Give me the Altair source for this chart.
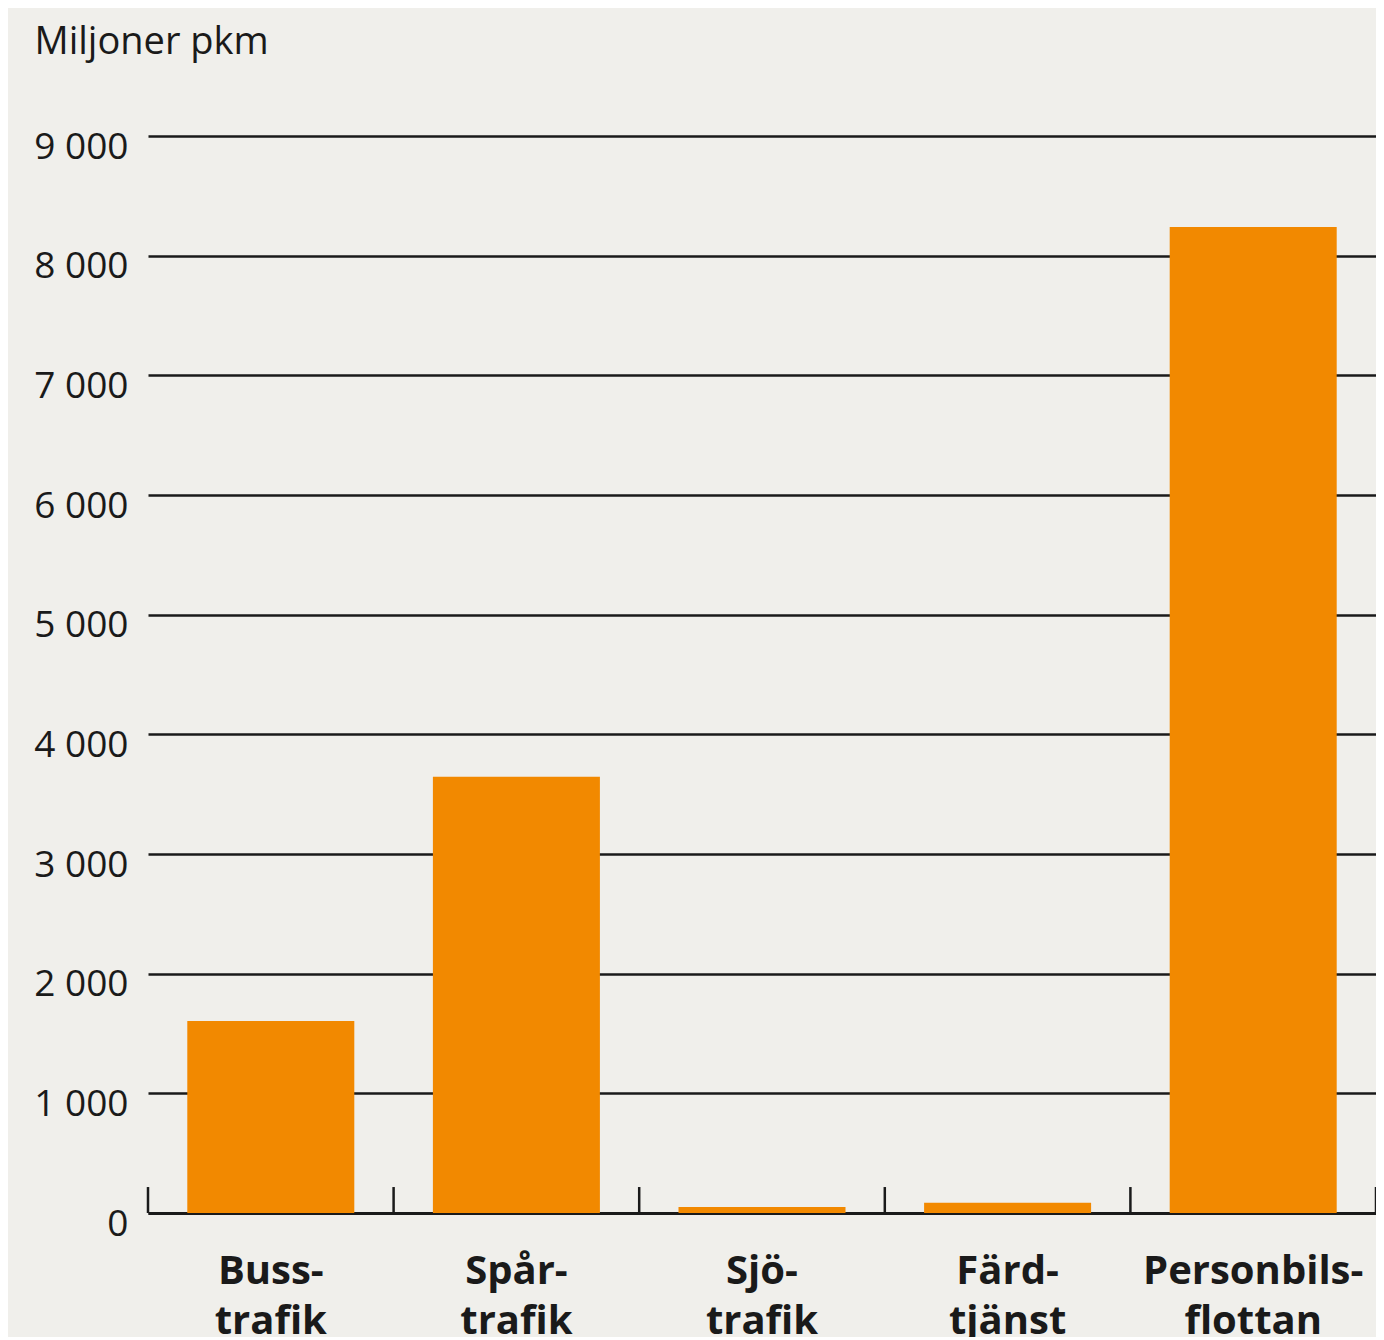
import altair as alt
import pandas as pd

categories = ["Buss-trafik", "Spår-trafik", "Sjö-trafik", "Färd-tjänst", "Personbils-flottan"]
values = [1605, 3645, 50, 85, 8240]
y_ticks = [0, 1000, 2000, 3000, 4000, 5000, 6000, 7000, 8000, 9000]

df = pd.DataFrame({"cat": categories, "value": values})
last_df = pd.DataFrame({"cat": categories[-1:]})

BG = "#f0efeb"
ORANGE = "#f28900"
INK = "#1a1a1a"
W, H = 1228, 1077
PAD_IN, PAD_OUT = 0.32, 0.16
STEP = W / (len(categories) - PAD_IN + 2 * PAD_OUT)
GAP = PAD_OUT * STEP

xscale = alt.Scale(domain=categories, paddingInner=PAD_IN, paddingOuter=PAD_OUT)
yscale = alt.Scale(domain=[0, 9000], nice=False)

bars = alt.Chart(df).mark_bar(color=ORANGE).encode(
    x=alt.X(
        "cat:N",
        scale=xscale,
        sort=categories,
        axis=alt.Axis(
            title=None,
            ticks=False,
            domain=True,
            domainColor=INK,
            domainWidth=3,
            labelFont="Open Sans",
            labelFontWeight="bold",
            labelFontSize=40,
            labelColor=INK,
            labelAngle=0,
            labelBaseline="alphabetic",
            labelPadding=70,
            labelLineHeight=50,
            labelLimit=0,
            labelOverlap=False,
            labelExpr="[split(datum.label, '-')[0] + '-', split(datum.label, '-')[1]]",
        ),
    ),
    y=alt.Y(
        "value:Q",
        scale=yscale,
        axis=alt.Axis(
            values=y_ticks,
            title="Miljoner pkm",
            titleAngle=0,
            titleAlign="left",
            titleBaseline="alphabetic",
            titleX=-114,
            titleY=-83,
            titleFont="Open Sans",
            titleFontWeight="normal",
            titleFontSize=38,
            titleColor=INK,
            grid=True,
            gridColor=INK,
            gridWidth=2.5,
            domain=False,
            ticks=False,
            labelFont="Open Sans",
            labelFontSize=37,
            labelColor=INK,
            labelPadding=20,
            labelBaseline="alphabetic",
            labelOffset=22,
            labelExpr="replace(format(datum.value, ','), ',', ' ')",
        ),
    ),
)

ticks = alt.Chart(df).mark_rule(color=INK, strokeWidth=2.5, xOffset=-GAP).encode(
    x=alt.X("cat:N", scale=xscale, sort=categories, bandPosition=0),
    y=alt.datum(0, scale=yscale),
    y2=alt.datum(217),
)

end_tick = alt.Chart(last_df).mark_rule(color=INK, strokeWidth=2.5, xOffset=GAP).encode(
    x=alt.X("cat:N", scale=xscale, sort=categories, bandPosition=1),
    y=alt.datum(0, scale=yscale),
    y2=alt.datum(217),
)

chart = (
    alt.layer(bars, ticks, end_tick)
    .properties(
        width=W,
        height=H,
        background=BG,
        padding={"left": 140, "top": 128, "right": 0, "bottom": 124},
        autosize=alt.AutoSizeParams(type="none"),
    )
    .configure_view(stroke=None)
)

chart.save("out.html", embed_options={"renderer": "svg", "actions": False})
